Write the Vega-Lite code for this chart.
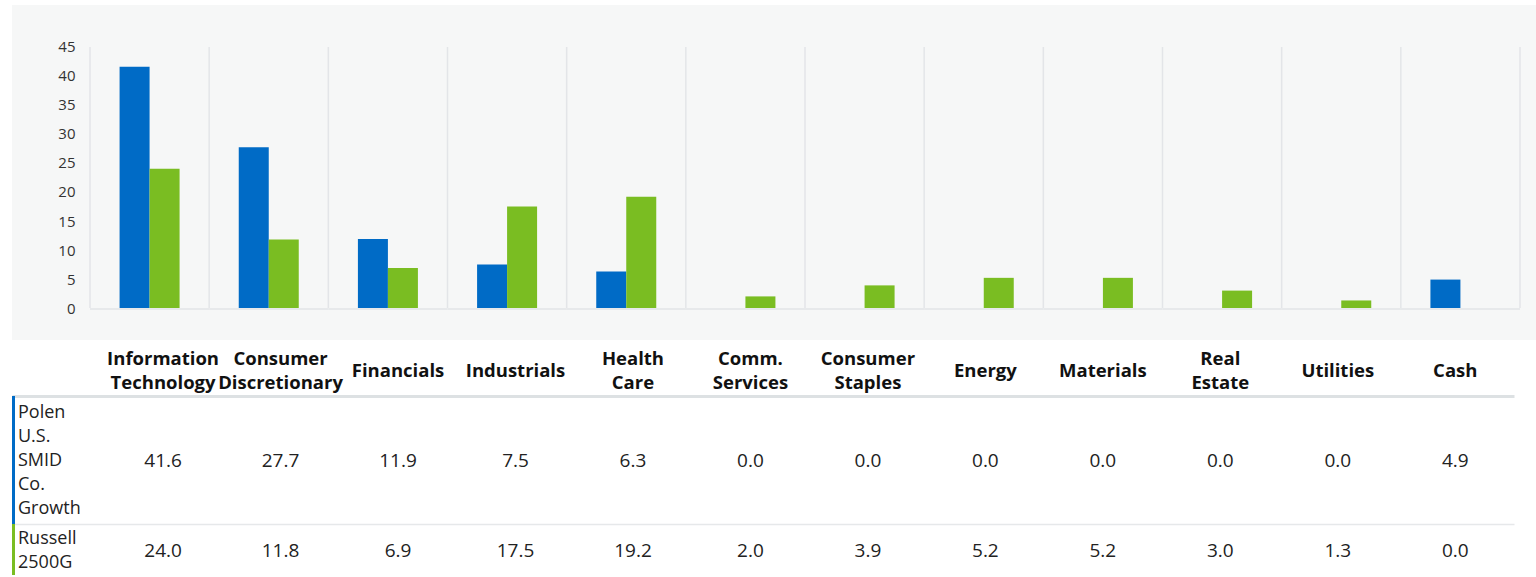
{
  "$schema": "https://vega.github.io/schema/vega-lite/v6.json",
  "background": "white",
  "padding": {"left": 12, "top": 5, "right": 0, "bottom": 0},
  "spacing": 0,
  "config": {"view": {"stroke": null}, "font": "Open Sans", "text": {"font": "Open Sans"}, "axis": {"labelFont": "Open Sans"}},
  "datasets": {
    "alloc": [
      {"sector": "Information Technology", "series": "Polen U.S. SMID Co. Growth", "value": 41.6},
      {"sector": "Consumer Discretionary", "series": "Polen U.S. SMID Co. Growth", "value": 27.7},
      {"sector": "Financials", "series": "Polen U.S. SMID Co. Growth", "value": 11.9},
      {"sector": "Industrials", "series": "Polen U.S. SMID Co. Growth", "value": 7.5},
      {"sector": "Health Care", "series": "Polen U.S. SMID Co. Growth", "value": 6.3},
      {"sector": "Comm. Services", "series": "Polen U.S. SMID Co. Growth", "value": 0.0},
      {"sector": "Consumer Staples", "series": "Polen U.S. SMID Co. Growth", "value": 0.0},
      {"sector": "Energy", "series": "Polen U.S. SMID Co. Growth", "value": 0.0},
      {"sector": "Materials", "series": "Polen U.S. SMID Co. Growth", "value": 0.0},
      {"sector": "Real Estate", "series": "Polen U.S. SMID Co. Growth", "value": 0.0},
      {"sector": "Utilities", "series": "Polen U.S. SMID Co. Growth", "value": 0.0},
      {"sector": "Cash", "series": "Polen U.S. SMID Co. Growth", "value": 4.9},
      {"sector": "Information Technology", "series": "Russell 2500G", "value": 24.0},
      {"sector": "Consumer Discretionary", "series": "Russell 2500G", "value": 11.8},
      {"sector": "Financials", "series": "Russell 2500G", "value": 6.9},
      {"sector": "Industrials", "series": "Russell 2500G", "value": 17.5},
      {"sector": "Health Care", "series": "Russell 2500G", "value": 19.2},
      {"sector": "Comm. Services", "series": "Russell 2500G", "value": 2.0},
      {"sector": "Consumer Staples", "series": "Russell 2500G", "value": 3.9},
      {"sector": "Energy", "series": "Russell 2500G", "value": 5.2},
      {"sector": "Materials", "series": "Russell 2500G", "value": 5.2},
      {"sector": "Real Estate", "series": "Russell 2500G", "value": 3.0},
      {"sector": "Utilities", "series": "Russell 2500G", "value": 1.3},
      {"sector": "Cash", "series": "Russell 2500G", "value": 0.0}
    ],
    "series": [
      {"series": "Polen U.S. SMID Co. Growth"},
      {"series": "Russell 2500G"}
    ]
  },
  "vconcat": [
    {
      "width": 1524,
      "height": 335,
      "view": {"fill": "#f6f7f7", "stroke": null},
      "data": {"name": "alloc"},
      "layer": [
        {
          "transform": [{"filter": "datum.series === 'Russell 2500G'"}],
          "mark": {"type": "rule", "color": "#e3e5e8", "strokeWidth": 1.5},
          "encoding": {
            "x": {"field": "sector", "type": "nominal", "bandPosition": 0, "axis": null,
                  "scale": {"type": "band", "domain": ["Information Technology", "Consumer Discretionary", "Financials", "Industrials", "Health Care", "Comm. Services", "Consumer Staples", "Energy", "Materials", "Real Estate", "Utilities", "Cash"], "paddingInner": 0, "paddingOuter": 0.3944, "align": 0.8298}},
            "y": {"datum": 45, "type": "quantitative", "scale": {"domain": [-5.517, 52.241], "nice": false, "zero": false},
                  "axis": {"values": [0, 5, 10, 15, 20, 25, 30, 35, 40, 45], "offset": -78, "domain": false, "ticks": false, "tickSize": 0, "labelPadding": 15, "grid": false, "title": null, "labelFontSize": 15, "labelColor": "#333333", "minExtent": 0}},
            "y2": {"datum": 0}
          }
        },
        {
          "transform": [{"filter": "datum.series === 'Russell 2500G' && datum.sector === 'Cash'"}],
          "mark": {"type": "rule", "color": "#e3e5e8", "strokeWidth": 1.5},
          "encoding": {
            "x": {"field": "sector", "type": "nominal", "bandPosition": 1, "axis": null,
                  "scale": {"type": "band", "domain": ["Information Technology", "Consumer Discretionary", "Financials", "Industrials", "Health Care", "Comm. Services", "Consumer Staples", "Energy", "Materials", "Real Estate", "Utilities", "Cash"], "paddingInner": 0, "paddingOuter": 0.3944, "align": 0.8298}},
            "y": {"datum": 45, "type": "quantitative", "scale": {"domain": [-5.517, 52.241], "nice": false, "zero": false},
                  "axis": {"values": [0, 5, 10, 15, 20, 25, 30, 35, 40, 45], "offset": -78, "domain": false, "ticks": false, "tickSize": 0, "labelPadding": 15, "grid": false, "title": null, "labelFontSize": 15, "labelColor": "#333333", "minExtent": 0}},
            "y2": {"datum": 0}
          }
        },
        {
          "mark": {"type": "bar"},
          "encoding": {
            "x": {"field": "sector", "type": "nominal", "axis": null,
                  "scale": {"type": "band", "domain": ["Information Technology", "Consumer Discretionary", "Financials", "Industrials", "Health Care", "Comm. Services", "Consumer Staples", "Energy", "Materials", "Real Estate", "Utilities", "Cash"], "paddingInner": 0, "paddingOuter": 0.3944, "align": 0.8298}},
            "xOffset": {"field": "series", "type": "nominal",
                  "scale": {"domain": ["Polen U.S. SMID Co. Growth", "Russell 2500G"], "paddingInner": 0, "paddingOuter": 0.986}},
            "y": {"field": "value", "type": "quantitative",
                  "scale": {"domain": [-5.517, 52.241], "nice": false, "zero": false},
                  "axis": {"values": [0, 5, 10, 15, 20, 25, 30, 35, 40, 45], "offset": -78, "domain": false, "ticks": false, "tickSize": 0, "labelPadding": 15, "grid": false, "title": null, "labelFontSize": 15, "labelColor": "#333333", "minExtent": 0}},
            "y2": {"datum": 0},
            "color": {"field": "series", "type": "nominal", "legend": null,
                      "scale": {"domain": ["Polen U.S. SMID Co. Growth", "Russell 2500G"], "range": ["#006bc6", "#7abd22"]}}
          }
        },
        {
          "transform": [{"filter": "datum.series === 'Russell 2500G'"}],
          "mark": {"type": "bar", "color": "#dfe2e5", "opacity": 0.65},
          "encoding": {
            "x": {"field": "sector", "type": "nominal", "axis": null,
                  "scale": {"type": "band", "domain": ["Information Technology", "Consumer Discretionary", "Financials", "Industrials", "Health Care", "Comm. Services", "Consumer Staples", "Energy", "Materials", "Real Estate", "Utilities", "Cash"], "paddingInner": 0, "paddingOuter": 0.3944, "align": 0.8298}},
            "y": {"datum": 0, "type": "quantitative", "scale": {"domain": [-5.517, 52.241], "nice": false, "zero": false},
                  "axis": {"values": [0, 5, 10, 15, 20, 25, 30, 35, 40, 45], "offset": -78, "domain": false, "ticks": false, "tickSize": 0, "labelPadding": 15, "grid": false, "title": null, "labelFontSize": 15, "labelColor": "#333333", "minExtent": 0}},
            "y2": {"datum": -0.35}
          }
        }
      ]
    },
    {
      "width": 1502,
      "height": 56,
      "data": {"name": "alloc"},
      "transform": [{"filter": "datum.series === 'Russell 2500G'"}],
      "layer": [
        {
          "transform": [{"filter": "indexof(datum.sector, ' ') >= 0"}],
          "mark": {"type": "text", "fontWeight": "bold", "fontSize": 18.5, "lineBreak": " ", "lineHeight": 24, "dy": -9, "color": "#111111", "baseline": "middle", "align": "center"},
          "encoding": {
            "x": {"field": "sector", "type": "nominal",
                  "scale": {"type": "band", "domain": ["Information Technology", "Consumer Discretionary", "Financials", "Industrials", "Health Care", "Comm. Services", "Consumer Staples", "Energy", "Materials", "Real Estate", "Utilities", "Cash"], "paddingInner": 0, "paddingOuter": 0.393, "align": 1},
                  "axis": {"domain": true, "domainColor": "#dde1e3", "domainWidth": 3, "labels": false, "ticks": false, "grid": false, "title": null}},
            "text": {"field": "sector", "type": "nominal"}
          }
        },
        {
          "transform": [{"filter": "indexof(datum.sector, ' ') < 0"}],
          "mark": {"type": "text", "fontWeight": "bold", "fontSize": 18.5, "dy": 3, "color": "#111111", "baseline": "middle", "align": "center"},
          "encoding": {
            "x": {"field": "sector", "type": "nominal",
                  "scale": {"type": "band", "domain": ["Information Technology", "Consumer Discretionary", "Financials", "Industrials", "Health Care", "Comm. Services", "Consumer Staples", "Energy", "Materials", "Real Estate", "Utilities", "Cash"], "paddingInner": 0, "paddingOuter": 0.393, "align": 1},
                  "axis": {"domain": true, "domainColor": "#dde1e3", "domainWidth": 3, "labels": false, "ticks": false, "grid": false, "title": null}},
            "text": {"field": "sector", "type": "nominal"}
          }
        }
      ]
    },
    {
      "width": 1502,
      "height": 128,
      "layer": [
        {
          "data": {"name": "alloc"},
          "transform": [{"filter": "datum.series === 'Polen U.S. SMID Co. Growth'"}],
          "mark": {"type": "text", "fontSize": 19, "color": "#222222", "baseline": "middle", "align": "center", "dy": 1},
          "encoding": {
            "x": {"field": "sector", "type": "nominal",
                  "scale": {"type": "band", "domain": ["Information Technology", "Consumer Discretionary", "Financials", "Industrials", "Health Care", "Comm. Services", "Consumer Staples", "Energy", "Materials", "Real Estate", "Utilities", "Cash"], "paddingInner": 0, "paddingOuter": 0.393, "align": 1},
                  "axis": {"domain": true, "domainColor": "#e6e8ea", "domainWidth": 1.5, "labels": false, "ticks": false, "grid": false, "title": null}},
            "text": {"field": "value", "type": "quantitative", "format": ".1f"}
          }
        },
        {
          "data": {"name": "series"},
          "transform": [{"filter": "datum.series === 'Polen U.S. SMID Co. Growth'"}],
          "mark": {"type": "bar"},
          "encoding": {
            "x": {"field": "series", "type": "nominal", "axis": null, "scale": {"type": "band", "paddingInner": 0.996, "paddingOuter": 1, "align": 0}},
            "color": {"field": "series", "type": "nominal", "legend": null,
                      "scale": {"domain": ["Polen U.S. SMID Co. Growth", "Russell 2500G"], "range": ["#006bc6", "#7abd22"]}}
          }
        },
        {
          "data": {"name": "series"},
          "transform": [{"filter": "datum.series === 'Polen U.S. SMID Co. Growth'"}],
          "mark": {"type": "text", "fontSize": 18, "color": "#222222", "baseline": "middle", "align": "left", "dx": 6, "dy": -47, "lineBreak": " ", "lineHeight": 24},
          "encoding": {
            "x": {"field": "series", "type": "nominal", "bandPosition": 0, "axis": null, "scale": {"type": "band", "paddingInner": 0.996, "paddingOuter": 1, "align": 0}},
            "text": {"field": "series", "type": "nominal"}
          }
        }
      ],
      "resolve": {"scale": {"x": "independent", "color": "independent"}, "axis": {"x": "independent"}}
    },
    {
      "width": 1502,
      "height": 51,
      "layer": [
        {
          "data": {"name": "alloc"},
          "transform": [{"filter": "datum.series === 'Russell 2500G'"}],
          "mark": {"type": "text", "fontSize": 19, "color": "#222222", "baseline": "middle", "align": "center", "dy": 1.5},
          "encoding": {
            "x": {"field": "sector", "type": "nominal",
                  "scale": {"type": "band", "domain": ["Information Technology", "Consumer Discretionary", "Financials", "Industrials", "Health Care", "Comm. Services", "Consumer Staples", "Energy", "Materials", "Real Estate", "Utilities", "Cash"], "paddingInner": 0, "paddingOuter": 0.393, "align": 1},
                  "axis": null},
            "text": {"field": "value", "type": "quantitative", "format": ".1f"}
          }
        },
        {
          "data": {"name": "series"},
          "transform": [{"filter": "datum.series === 'Russell 2500G'"}],
          "mark": {"type": "bar"},
          "encoding": {
            "x": {"field": "series", "type": "nominal", "axis": null, "scale": {"type": "band", "paddingInner": 0.996, "paddingOuter": 1, "align": 0}},
            "color": {"field": "series", "type": "nominal", "legend": null,
                      "scale": {"domain": ["Polen U.S. SMID Co. Growth", "Russell 2500G"], "range": ["#006bc6", "#7abd22"]}}
          }
        },
        {
          "data": {"name": "series"},
          "transform": [{"filter": "datum.series === 'Russell 2500G'"}],
          "mark": {"type": "text", "fontSize": 18, "color": "#222222", "baseline": "middle", "align": "left", "dx": 6, "dy": -10.5, "lineBreak": " ", "lineHeight": 24},
          "encoding": {
            "x": {"field": "series", "type": "nominal", "bandPosition": 0, "axis": null, "scale": {"type": "band", "paddingInner": 0.996, "paddingOuter": 1, "align": 0}},
            "text": {"field": "series", "type": "nominal"}
          }
        }
      ],
      "resolve": {"scale": {"x": "independent", "color": "independent"}, "axis": {"x": "independent"}}
    }
  ]
}
